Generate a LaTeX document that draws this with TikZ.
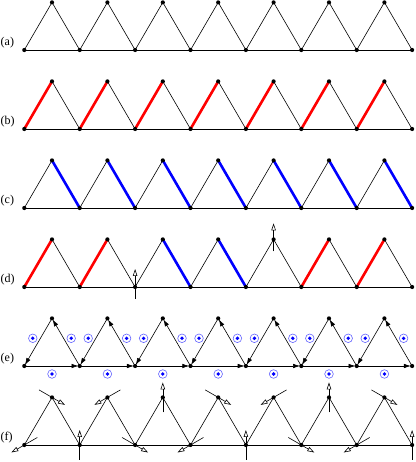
\documentclass[tikz,border=0pt]{standalone}
\usepackage{fontspec}
\setmainfont{Liberation Serif}
\usetikzlibrary{arrows.meta}
\definecolor{spinred}{RGB}{255,0,0}
\definecolor{spinblue}{RGB}{0,0,255}
\definecolor{ringblue}{RGB}{100,100,255}

\tikzset{
  edge/.style={line width=0.6pt},
  bond/.style={line width=2.6pt},
  flow/.style={line width=0.6pt, -{Latex[length=7pt,width=4.5pt]}, shorten >=1.2pt},
  spin/.style={line width=0.6pt, -{Triangle[open,length=7pt,width=4.5pt]}},
  odot/.style={circle, draw=ringblue, line width=0.6pt, inner sep=0pt, minimum size=8.6pt,
    path picture={\fill[spinblue] (path picture bounding box.center) circle (1.9pt);}},
  rowlabel/.style={anchor=west, inner sep=0pt, font=\fontsize{12}{14}\selectfont}
}

\begin{document}
\begin{tikzpicture}[x=1pt, y=1pt]
	\def\trisp{55.4}
	\def\trih{47.6}
	\def\trix{24.3}
	\useasboundingbox (0,0) rectangle (415,462);
	
	\foreach \r/\y in {a/412, b/333, c/254, d/175, e/96, f/17} {
		\foreach \k in {0,...,7}
			\coordinate (\r b\k) at ({\trix+\k*\trisp}, \y);
		\foreach \k in {0,...,6}
			\coordinate (\r t\k) at ({\trix+(\k+0.5)*\trisp}, {\y+\trih});
		\node[rowlabel] (\r lab) at (0.5, {\y+7}) {(\r)};
	}
	
	\foreach \r in {a,b,c,d,f} {
		\draw[edge] (\r b0) -- (\r b7);
		\foreach \k [count=\kk] in {0,...,6}
			\draw[edge] (\r b\k) -- (\r t\k) -- (\r b\kk);
	}
	
	\foreach \k in {0,...,6}
		\draw[bond, spinred] (bb\k) -- (bt\k);
	\foreach \k [count=\kk] in {0,...,6}
		\draw[bond, spinblue] (ct\k) -- (cb\kk);
	\foreach \k in {0,1,5,6}
		\draw[bond, spinred] (db\k) -- (dt\k);
	\draw[bond, spinblue] (dt2) -- (db3);
	\draw[bond, spinblue] (dt3) -- (db4);
	
	\draw[spin] ([shift={(0,-12)}]db2) -- ([shift={(0,18)}]db2);
	\draw[spin] ([shift={(0,-12)}]dt4) -- ([shift={(0,16)}]dt4);
	
	\foreach \k [count=\kk] in {0,...,6} {
		\draw[flow] (eb\k) -- (eb\kk);
		\draw[flow] (et\k) -- (eb\k);
		\draw[flow] (eb\kk) -- (et\k);
		\node[odot] (eL\k) at ({\trix+\k*\trisp+8.5}, 123.7) {};
		\node[odot] (eR\k) at ({\trix+\k*\trisp+46.9}, 123.7) {};
		\node[odot] (eD\k) at ({\trix+(\k+0.5)*\trisp}, 88) {};
	}
	
	\foreach \k/\a in {0/210,1/90,2/330,3/210,4/90,5/330,6/210,7/90}
		\draw[spin] ([shift={({\a+180}:15)}]fb\k) -- ([shift={(\a:15)}]fb\k);
	\foreach \k/\a in {0/330,1/210,2/90,3/330,4/210,5/90,6/330}
		\draw[spin] ([shift={({\a+180}:15)}]ft\k) -- ([shift={(\a:15)}]ft\k);
	
	\foreach \r in {a,b,c,d,e,f} {
		\foreach \k in {0,...,7}
			\fill (\r b\k) circle (2.1);
		\foreach \k in {0,...,6}
			\fill (\r t\k) circle (2.1);
	}
	
\end{tikzpicture}
\end{document}
